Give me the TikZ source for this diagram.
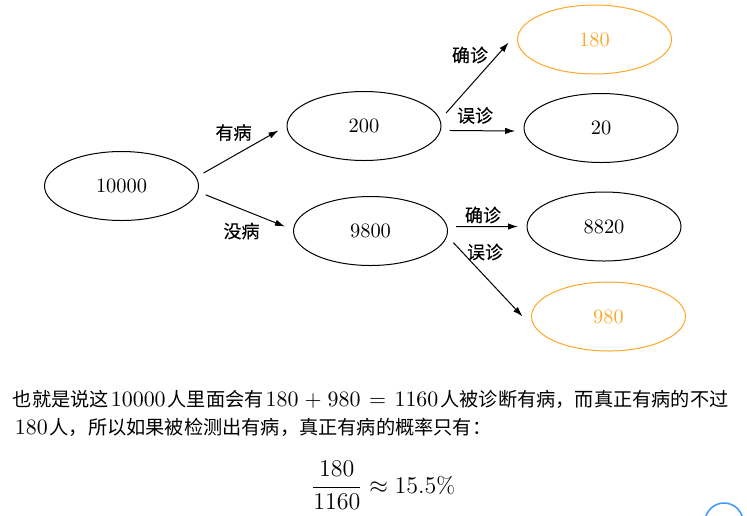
\documentclass[tikz,border=0pt]{standalone}
\usepackage{amsmath}
\usepackage{xcolor}
\usepackage{fontspec}
\newfontfamily\cjk{Noto Sans CJK SC}
\newfontfamily\cjklabel[FakeBold=0.3]{Noto Sans CJK SC}
\usetikzlibrary{arrows.meta, shapes.geometric}

% inline numbers in the running text
\newcommand\pnum[1]{\hspace{1pt}{\fontsize{10.5}{12}\selectfont$#1$}\hspace{1pt}}

\begin{document}
\begin{tikzpicture}[x=0.5pt, y=-0.5pt,
    countnode/.style={ellipse, draw, line width=0.5pt, minimum width=77pt, minimum height=34.5pt,
      inner sep=0pt, outer sep=4.5pt, font=\fontsize{10.2}{12}\selectfont},
    hitnode/.style={countnode, draw=hitcolor, text=hitcolor},
    flow/.style={-{Latex[length=5pt,width=3.2pt]}, line width=0.5pt},
    edgelabel/.style={font=\cjklabel\fontsize{9}{11}\selectfont, inner sep=0pt},
    para/.style={font=\cjk\fontsize{9.6}{12}\selectfont, inner sep=0pt, anchor=base west}]
    % Colors
    \definecolor{hitcolor}{RGB}{255,168,40}
    \definecolor{cornercolor}{RGB}{60,150,255}

    % Canvas
    \fill[white] (0,0) rectangle (747,515);
    \useasboundingbox (0,0) rectangle (747,515);

    % Tree
    \node[countnode] (root) at (121.5,186) {10000};
    \node[countnode] (sick) at (364,126) {200};
    \node[countnode] (healthy) at (370.5,231) {9800};
    \node[hitnode] (tp) at (594.5,39.5) {180};
    \node[countnode] (fn) at (601,128) {20};
    \node[countnode] (tn) at (604,226.5) {8820};
    \node[hitnode] (fp) at (608.5,316.5) {980};

    \foreach \from/\to in {root.9/sick.183, root.354/healthy.177, sick.9/tp.182,
        sick.357/fn.182, healthy.3/tn.180, healthy.352/fp.180} {
        \draw[flow] (\from) -- (\to);
    }

    % Branch labels
    \node[edgelabel] (lblsick) at (233.5,132.5) {有病};
    \node[edgelabel] (lblhealthy) at (241.5,231) {没病};
    \node[edgelabel] (lbltp) at (470,55) {确诊};
    \node[edgelabel] (lblfn) at (475,115.5) {误诊};
    \node[edgelabel] (lbltn) at (483,215) {确诊};
    \node[edgelabel] (lblfp) at (485,252) {误诊};

    % Text below
    \node[para] (lineone) at (12.5,406)
      {也就是说这\pnum{10000}人里面会有\pnum{180\mskip1mu+\mskip1mu980\mskip2mu=\mskip2mu1160}人被诊断有病，而真正有病的不过};
    \node[para] (linetwo) at (12.5,434)
      {\pnum{180}人，所以如果被检测出有病，真正有病的概率只有：};
    \node[anchor=base west, inner sep=0pt, font=\fontsize{11.5}{14}\selectfont] (ratio) at (310.5,493)
      {$\displaystyle\frac{180}{1160}\approx 15.5\%$};

    % Corner mark
    \draw[cornercolor, line width=0.75pt] (724,522) circle[radius=19];
\end{tikzpicture}
\end{document}
